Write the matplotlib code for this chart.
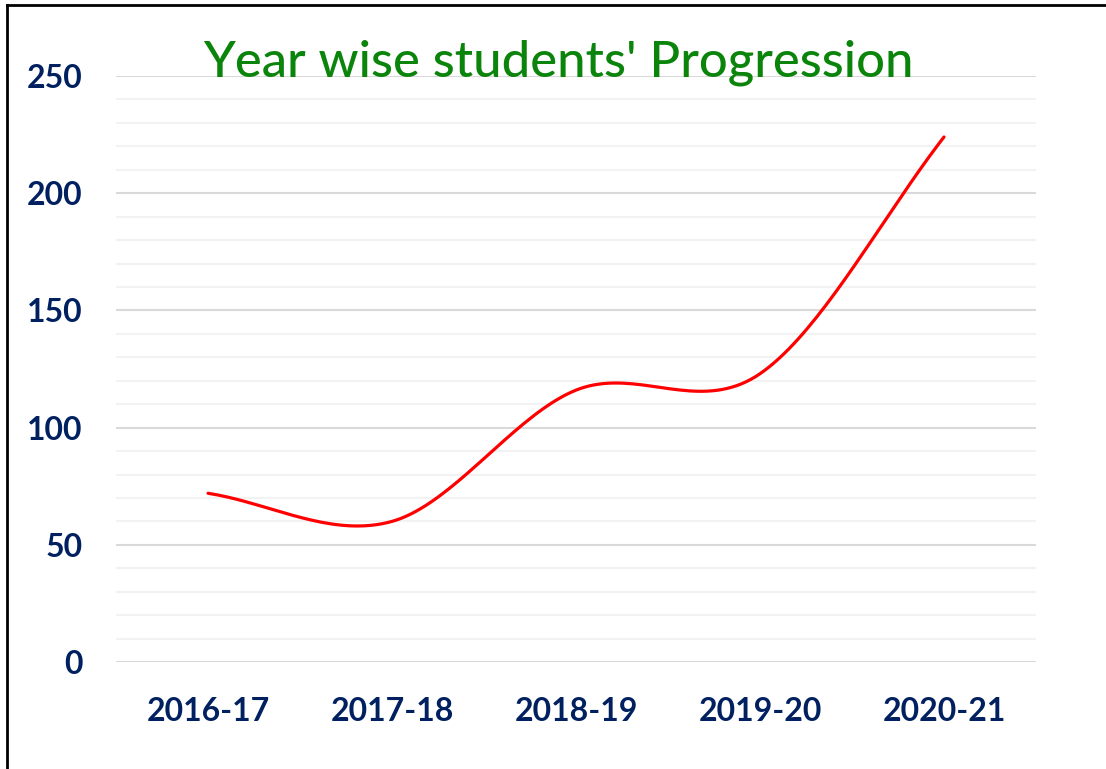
import matplotlib.pyplot as plt
import numpy as np
from matplotlib.lines import Line2D
from matplotlib.ticker import MultipleLocator

# data
years = ['2016-17', '2017-18', '2018-19', '2019-20', '2020-21']
students = [72, 60, 116, 123, 224]

navy = '#002060'
green = '#0B840B'


# smooth line like the spreadsheet one (Catmull-Rom through every point)
def smooth(xs, ys, steps=40):
    xs = np.asarray(xs, float)
    ys = np.asarray(ys, float)
    n = len(xs)
    out_x, out_y = [], []
    for i in range(n - 1):
        y0 = ys[i - 1] if i > 0 else ys[i]
        y3 = ys[i + 2] if i + 2 < n else ys[i + 1]
        m1 = (ys[i + 1] - y0) / (2 if i > 0 else 1)
        m2 = (y3 - ys[i]) / (2 if i + 2 < n else 1)
        t = np.linspace(0, 1, steps)
        h00 = 2 * t**3 - 3 * t**2 + 1
        h10 = t**3 - 2 * t**2 + t
        h01 = -2 * t**3 + 3 * t**2
        h11 = t**3 - t**2
        out_x.extend(xs[i] + t * (xs[i + 1] - xs[i]))
        out_y.extend(h00 * ys[i] + h10 * m1 + h01 * ys[i + 1] + h11 * m2)
    return np.array(out_x), np.array(out_y)


fig = plt.figure(figsize=(11.06, 7.69), dpi=100)
ax = fig.add_axes([0.1049, 0.1391, 0.8318, 0.7620])

pos = np.arange(len(years))
sx, sy = smooth(pos, students)
ax.plot(sx, sy, color='#FF0000', linewidth=2.3, solid_capstyle='round', zorder=3)

ax.set_xlim(-0.5, len(years) - 0.5)
ax.set_ylim(0, 250)
ax.yaxis.set_major_locator(MultipleLocator(50))
ax.yaxis.set_minor_locator(MultipleLocator(10))
ax.set_xticks(pos)
ax.set_xticklabels(years)

ax.grid(axis='y', which='major', color='#D9D9D9', linewidth=1.5)
ax.grid(axis='y', which='minor', color='#F2F2F2', linewidth=1.5)
ax.set_axisbelow(True)
for s in ax.spines.values():
    s.set_visible(False)
ax.tick_params(axis='both', which='both', length=0)
ax.tick_params(axis='y', pad=24)
ax.tick_params(axis='x', pad=25)
for lab in ax.get_xticklabels() + ax.get_yticklabels():
    lab.set_fontfamily('Lato')
    lab.set_fontweight('bold')
    lab.set_fontsize(23)
    lab.set_color(navy)

fig.text(0.505, 0.919, "Year wise students' Progression", ha='center', va='center',
         fontsize=36.5, color=green, family='Lato', fontweight='medium')

# frame around the picture (left and top edges visible)
fig.add_artist(Line2D([0.0065, 0.0065], [0.0, 0.9935], color='black', linewidth=2,
                      transform=fig.transFigure))
fig.add_artist(Line2D([0.0065, 1.0], [0.9935, 0.9935], color='black', linewidth=2,
                      transform=fig.transFigure))

fig.savefig('out.png', dpi=100)
